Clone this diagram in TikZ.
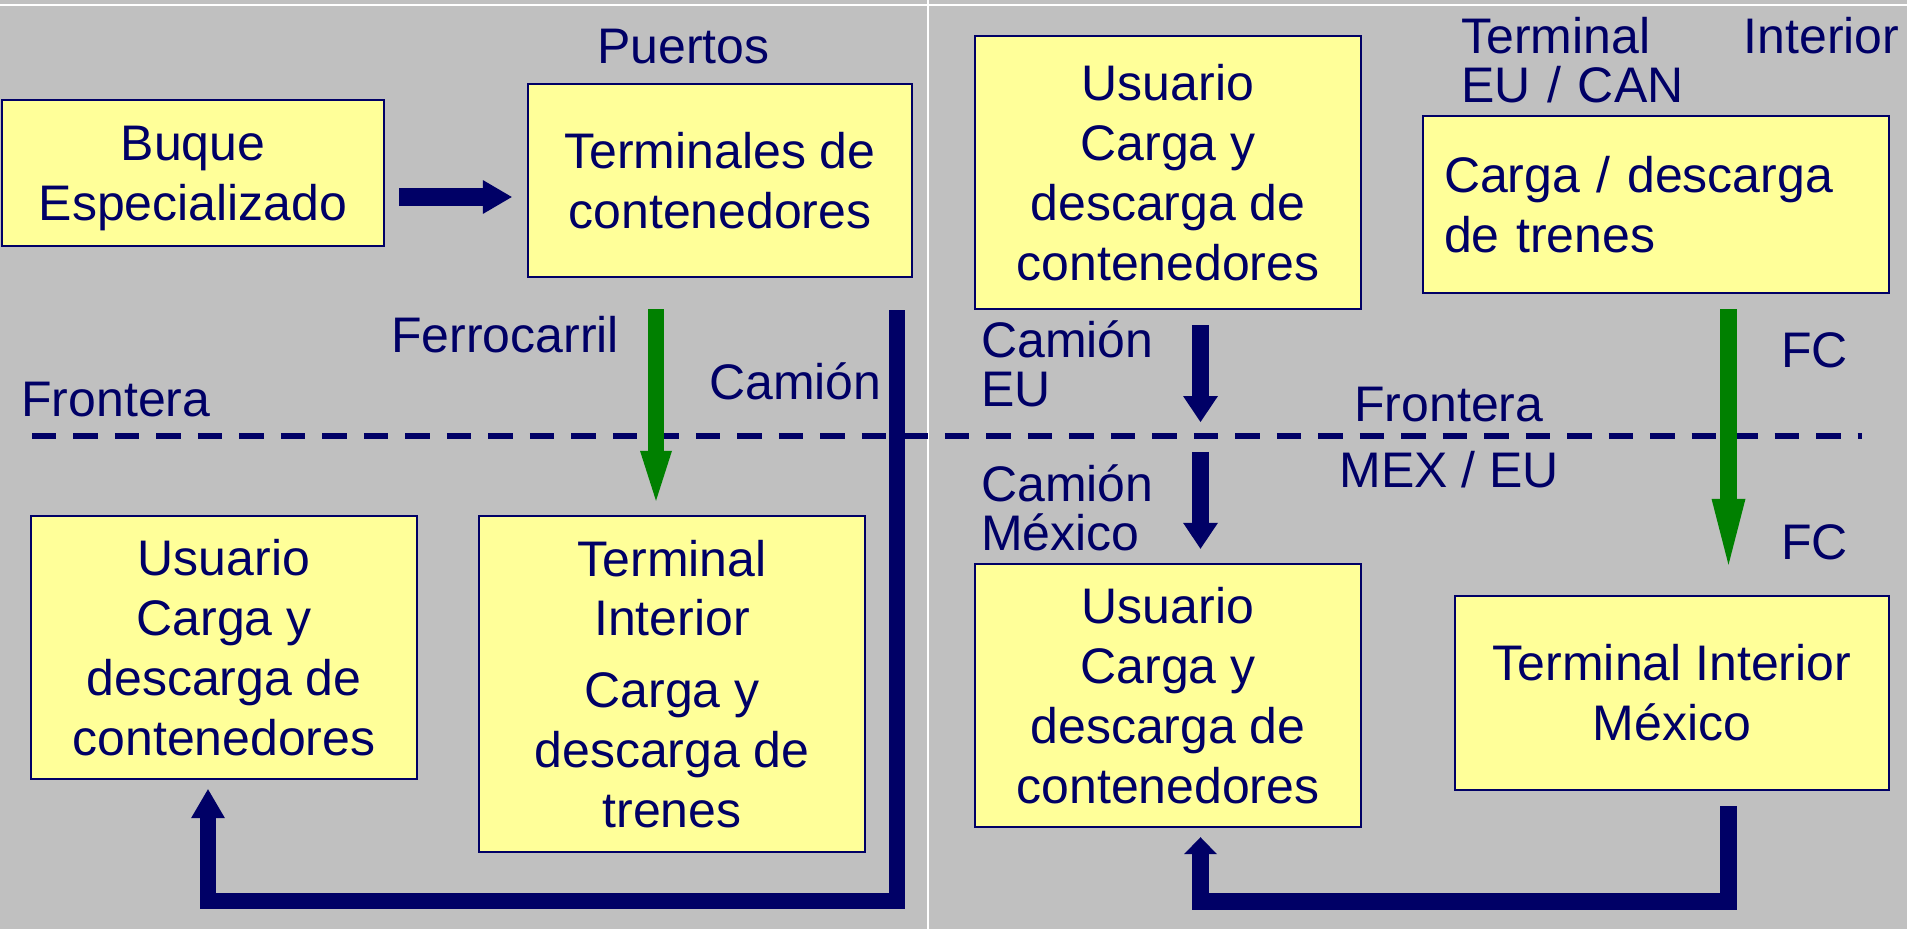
\documentclass[tikz,border=0pt]{standalone}
\usepackage{fontspec}
\setmainfont{Liberation Sans}
\usetikzlibrary{arrows.meta}
\definecolor{navy}{HTML}{000066}
\definecolor{slide}{HTML}{C0C0C0}
\definecolor{cajas}{HTML}{FFFF99}
\definecolor{tren}{HTML}{008000}
\newcommand{\boxtxt}{\fontsize{28.45}{34.1}\selectfont}
\newcommand{\labeltxt}{\fontsize{28.45}{27.6}\selectfont}

\begin{document}
\begin{tikzpicture}[x=0.02cm, y=-0.02cm,
  caja/.style={draw=navy, line width=0.05cm, fill=cajas, text=navy, align=center, inner sep=0pt, font=\boxtxt},
  etiqueta/.style={text=navy, inner sep=0pt, anchor=base west, align=left, font=\labeltxt},
  camion/.style={draw=navy, line width=0.34cm},
  ferro/.style={draw=tren, line width=0.34cm}]

  % fondo de la diapositiva
  \useasboundingbox (0,0) rectangle (1907,929);
  \fill[slide] (0,0) rectangle (1907,929);
  \draw[white, line width=0.04cm] (0,5) -- (1907,5);
  \draw[white, line width=0.045cm] (928,0) -- (928,929);

  % cajas
  \node[caja, minimum width=7.65cm, minimum height=2.92cm, text depth=0pt] (buque) at (193,173) {Buque\\Especializado};
  \node[caja, minimum width=7.68cm, minimum height=3.86cm] (term) at (720,180.5) {Terminales de\\contenedores};
  \node[caja, minimum width=7.72cm, minimum height=5.26cm] (usrL) at (224,647.5) {Usuario\\Carga y\\descarga de\\contenedores};
  \node[caja, minimum width=7.72cm, minimum height=6.72cm] (tint) at (672,684) {Terminal\\Interior\\[0.24cm]Carga y\\descarga de\\trenes};
  \node[caja, minimum width=7.72cm, minimum height=5.46cm] (usrA) at (1168,172.5) {Usuario\\Carga y\\descarga de\\contenedores};
  \node[caja, minimum width=9.32cm, minimum height=3.54cm, text width=8.48cm, align=left] (trenes) at (1656,204.5) {Carga / descarga\\de trenes};
  \node[caja, minimum width=7.72cm, minimum height=5.26cm] (usrB) at (1168,695.5) {Usuario\\Carga y\\descarga de\\contenedores};
  \node[caja, minimum width=8.68cm, minimum height=3.88cm] (tmex) at (1672,693) {Terminal Interior\\México};

  % etiquetas
  \node[etiqueta] (puertos) at (597,64) {Puertos};
  \node[etiqueta] (ferrocarril) at (391,352) {Ferrocarril};
  \node[etiqueta] (camion) at (709,399) {Camión};
  \node[etiqueta] (fronteraL) at (21,416) {Frontera};
  \node[etiqueta, text width=8.76cm] (tintUS) at (1461,54) {Terminal\hfill Interior\\EU / CAN};
  \node[etiqueta] (camionEU) at (981,406) {Camión\\EU};
  \node[etiqueta] (fronteraR) at (1354,421) {Frontera};
  \node[etiqueta] (mexeu) at (1339,487) {MEX / EU};
  \node[etiqueta] (camionMX) at (981,550) {Camión\\México};
  \node[etiqueta] (fc1) at (1781,367) {FC};
  \node[etiqueta] (fc2) at (1781,559) {FC};

  % frontera
  \coordinate (fl) at (32,436);
  \coordinate (fr) at (1862,436);
  \coordinate (cruce) at (1200.5,436);
  \draw[navy, line width=0.11cm, dash pattern=on 0.49cm off 0.34cm] (fl) -- (fr);

  % flechas
  \draw[navy, line width=0.36cm, -{Triangle[length=0.58cm, width=0.68cm, line width=0pt]}, shorten <=0.28cm, shorten >=0.3cm] (buque.east |- 0,197) -- (term.west |- 0,197);
  \draw[ferro, line width=0.33cm, -{Triangle[length=1cm, width=0.64cm, line width=0pt]}, shorten <=0.62cm, shorten >=0.28cm] (term.south -| 656,0) -- (tint.north -| 656,0);
  \draw[camion, line width=0.32cm, -{Triangle[length=0.58cm, width=0.68cm, line width=0pt]}, shorten <=0.64cm, shorten >=0.18cm] (term.south -| 897,0) -- (897,901) -| (usrL.south -| 208,0);
  \draw[camion, -{Triangle[length=0.52cm, width=0.7cm, line width=0pt]}, shorten <=0.3cm, shorten >=0.28cm] (usrA.south -| cruce) -- (cruce);
  \draw[camion, -{Triangle[length=0.52cm, width=0.7cm, line width=0pt]}, shorten <=0.32cm, shorten >=0.28cm] (cruce) -- (usrB.north -| cruce);
  \draw[ferro, -{Triangle[length=1.32cm, width=0.68cm, line width=0pt]}, shorten <=0.3cm, shorten >=0.6cm] (trenes.south -| 1728.5,0) -- (tmex.north -| 1728.5,0);
  \draw[camion, -{Triangle[length=0.34cm, width=0.66cm, line width=0pt]}, shorten <=0.3cm, shorten >=0.18cm] (tmex.south -| 1728,0) -- (1728,901) -| (usrB.south -| cruce);
\end{tikzpicture}
\end{document}
